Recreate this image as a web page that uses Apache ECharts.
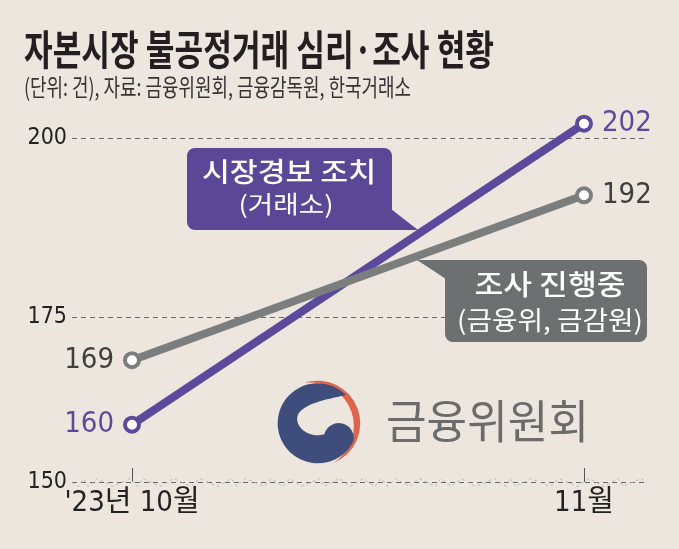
<!DOCTYPE html>
<html>
<head>
<meta charset="utf-8">
<script src="https://cdn.jsdelivr.net/npm/echarts@6/dist/echarts.min.js"></script>
<style>
  html, body { margin: 0; padding: 0; background: #ece6df; }
  #chart { width: 679px; height: 549px; }
</style>
</head>
<body>
<div id="chart"></div>
<script>
// ---- data ----
const categories = ["'23년 10월", "11월"];
const alertValues = [160, 202];          // 시장경보 조치 (거래소)
const investigationValues = [169, 192];  // 조사 진행중 (금융위, 금감원)
const yTickValues = [150, 175, 200];
const titleText = '자본시장 불공정거래 심리·조사 현황';
const subtitleText = '(단위: 건), 자료: 금융위원회, 금융감독원, 한국거래소';
const alertName = ['시장경보 조치', '(거래소)'];
const investName = ['조사 진행중', '(금융위, 금감원)'];
const logoText = '금융위원회';

// ---- style ----
const BG = '#ece6df';
const PURPLE = '#5b4a9c';
const PURPLE_BOX = '#5a4795';
const GRAY = '#7c7e7e';
const GRAY_BOX = '#6e6f70';
const KR = '"Noto Sans CJK KR", sans-serif';
const NARROW = '"Liberation Sans Narrow", "DejaVu Sans Condensed", "Noto Sans CJK KR", sans-serif';

const mctx = document.createElement('canvas').getContext('2d');
function fitScale(text, font, width) {
  mctx.font = font;
  return width / mctx.measureText(text).width;
}
function fitText(text, font, width, x, y, fill, align, z) {
  return {
    type: 'text', x: x, y: y, z: z || 10,
    scaleX: fitScale(text, font, width),
    style: { text: text, font: font, fill: fill, textAlign: align || 'left', textVerticalAlign: 'middle' }
  };
}

const logoSvg =
  '<svg xmlns="http://www.w3.org/2000/svg" width="276" height="276" viewBox="0 0 276 276">' +
  '<path d="M 85.4 20.3 A 128 128 0 0 1 172.9 260.7 A 131 131 0 0 0 85.4 20.3 Z" fill="#df644c"/>' +
  '<path d="M 209.9 57.1 A 120 120 0 1 0 231.9 196.5 A 44.5 44.5 0 0 0 145 175 C 100 188 52 152 66 116 C 82 84 150 70 209.9 57.1 Z" fill="#3f4d7c"/>' +
  '</svg>';
const logoUrl = 'data:image/svg+xml;charset=utf-8,' + encodeURIComponent(logoSvg);

const chart = echarts.init(document.getElementById('chart'), null, { renderer: 'canvas' });

function seriesData(vals) { return vals.map((v, i) => [i, v]); }

function makeSeries(name, vals, color, labelColor, z) {
  return {
    name: name,
    type: 'line',
    z: z,
    clip: false,
    data: seriesData(vals).map((d, i) => ({
      value: d,
      label: { position: i === 0 ? 'left' : 'right' }
    })),
    lineStyle: { color: color, width: 8 },
    symbol: 'circle',
    symbolSize: 14,
    itemStyle: { color: '#ffffff', borderColor: color, borderWidth: 4 },
    label: {
      show: true,
      distance: 9,
      formatter: p => String(p.value[1]),
      color: labelColor,
      fontFamily: NARROW,
      fontSize: 29
    },
    emphasis: { disabled: true },
    animation: false
  };
}

const option = {
  backgroundColor: BG,
  animation: false,
  grid: { left: 72, right: 32, top: 138, bottom: 67, containLabel: false },
  xAxis: {
    type: 'value',
    min: -0.1327,
    max: 1.1394,
    axisLine: { show: false },
    splitLine: { show: false },
    axisTick: {
      show: true, inside: true, length: 14,
      customValues: [0, 1],
      lineStyle: { color: '#555', width: 1 }
    },
    axisLabel: {
      customValues: [0, 1],
      formatter: v => categories[Math.round(v)],
      color: '#222',
      fontFamily: NARROW,
      fontSize: 29,
      margin: 7
    }
  },
  yAxis: {
    type: 'value',
    min: yTickValues[0],
    max: yTickValues[yTickValues.length - 1],
    interval: 25,
    breaks: [{ start: 150, end: 152, gap: 0 }],
    breakLabelLayout: { moveOverlap: false },
    axisLine: { show: false },
    axisTick: { show: false },
    axisLabel: {
      color: '#222', fontFamily: NARROW, fontSize: 23, margin: 5,
      formatter: v => (yTickValues.indexOf(v) >= 0 ? String(v) : '')
    },
    splitLine: { show: true, lineStyle: { color: '#666', width: 1.2, type: [5, 4] } }
  },
  series: [
    makeSeries('시장경보 조치', alertValues, PURPLE, PURPLE, 3),
    makeSeries('조사 진행중', investigationValues, GRAY, '#3f3f3f', 4)
  ],
  graphic: [
    fitText(titleText, 'bold 41px ' + KR, 470, 24, 49, '#231f20'),
    fitText(subtitleText, '24px ' + KR, 387, 24, 87, '#333333'),
    // purple callout
    { type: 'rect', z: 5, shape: { x: 187, y: 148, width: 205, height: 82, r: [8, 8, 0, 8] }, style: { fill: PURPLE_BOX } },
    { type: 'polygon', z: 5, shape: { points: [[391, 209], [418, 230], [391, 230]] }, style: { fill: PURPLE_BOX } },
    fitText(alertName[0], '500 27px ' + KR, 174, 289, 172, '#ffffff', 'center'),
    fitText(alertName[1], '24px ' + KR, 95, 286, 204, '#ffffff', 'center'),
    // gray callout
    { type: 'rect', z: 5, shape: { x: 445, y: 260, width: 202, height: 82, r: [0, 8, 8, 8] }, style: { fill: GRAY_BOX } },
    { type: 'polygon', z: 5, shape: { points: [[446, 260], [417, 260], [446, 279]] }, style: { fill: GRAY_BOX } },
    fitText(investName[0], '500 28px ' + KR, 151, 550, 284, '#ffffff', 'center'),
    fitText(investName[1], '26px ' + KR, 186, 550, 320, '#ffffff', 'center'),
    // logo
    { type: 'image', z: 5, style: { image: logoUrl, x: 276, y: 376, width: 92, height: 92 } },
    fitText(logoText, '46px ' + KR, 203, 386, 421, '#6b6b6b')
  ]
};

chart.setOption(option);
</script>
</body>
</html>
